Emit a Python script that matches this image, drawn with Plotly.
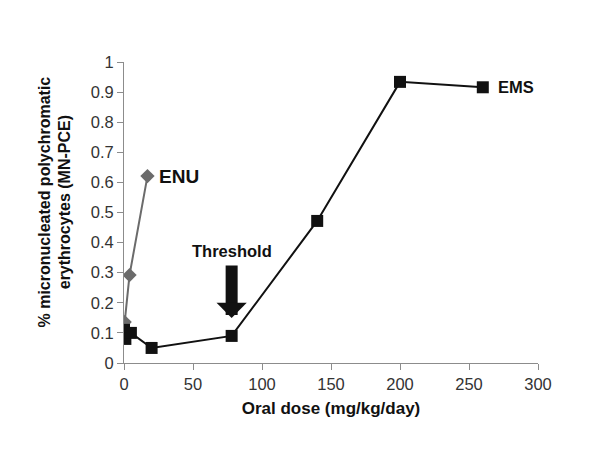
import plotly.graph_objects as go

# EMS series (oral dose mg/kg/day vs % MN-PCE)
ems_dose = [0, 1, 5, 20, 78, 140, 200, 260]
ems_mnpce = [0.11, 0.08, 0.10, 0.05, 0.09, 0.472, 0.934, 0.916]

# ENU series
enu_dose = [0.5, 4, 17]
enu_mnpce = [0.136, 0.292, 0.621]

x_ticks = [0, 50, 100, 150, 200, 250, 300]
y_ticks = [0, 0.1, 0.2, 0.3, 0.4, 0.5, 0.6, 0.7, 0.8, 0.9, 1]
y_tick_text = ["0", "0.1", "0.2", "0.3", "0.4", "0.5", "0.6", "0.7", "0.8", "0.9", "1"]

threshold_dose = 78
threshold_value = 0.09


def main():
    fig = go.Figure()

    fig.add_trace(go.Scatter(
        x=enu_dose, y=enu_mnpce, mode="lines+markers", name="ENU",
        line=dict(color="#6b6b6b", width=2),
        marker=dict(symbol="diamond", size=11, color="#6b6b6b"),
    ))
    fig.add_trace(go.Scatter(
        x=ems_dose, y=ems_mnpce, mode="lines+markers", name="EMS",
        line=dict(color="#111111", width=2),
        marker=dict(symbol="square", size=12, color="#111111"),
    ))

    # series labels
    fig.add_annotation(x=enu_dose[-1], y=enu_mnpce[-1], text="<b>ENU</b>", showarrow=False,
                       xanchor="left", xshift=10, font=dict(size=19, color="#111111"))
    fig.add_annotation(x=ems_dose[-1], y=ems_mnpce[-1], text="<b>EMS</b>", showarrow=False,
                       xanchor="left", xshift=13, font=dict(size=16.5, color="#111111"))

    # threshold arrow
    fig.add_annotation(x=threshold_dose, y=threshold_value, text="", showarrow=True,
                       ax=0, ay=-72, arrowhead=1, arrowsize=0.42, arrowwidth=12,
                       arrowcolor="#111111", standoff=18)
    fig.add_annotation(x=threshold_dose, y=threshold_value, text="<b>Threshold</b>", showarrow=False,
                       yshift=85, font=dict(size=16.5, color="#111111"))

    # y title as a rotated annotation so it can sit a little above centre like the original
    fig.add_annotation(xref="paper", yref="paper", x=0, y=0.5, xanchor="center", yanchor="middle",
                       xshift=-70, yshift=10,
                       text="<b>% micronucleated polychromatic<br>erythrocytes (MN-PCE)</b>",
                       textangle=-90, showarrow=False, font=dict(size=16, color="#111111"))

    axis_common = dict(
        showline=True, linecolor="#8c8c8c", linewidth=1,
        ticks="outside", tickcolor="#8c8c8c", ticklen=6,
        showgrid=False, zeroline=False, automargin=False,
        tickfont=dict(size=16.5, color="#333333"),
    )
    fig.update_xaxes(range=[0, 300], tickvals=x_ticks,
                     title=dict(text="<b>Oral dose (mg/kg/day)</b>", font=dict(size=17, color="#111111"),
                                standoff=10),
                     **axis_common)
    fig.update_yaxes(range=[0, 1], tickvals=y_ticks, ticktext=y_tick_text, **axis_common)

    # page body has an 8px default margin, so shift the plot area up/left by that
    fig.update_layout(
        width=600, height=450,
        margin=dict(l=116, r=70, t=54, b=95),
        paper_bgcolor="white", plot_bgcolor="white",
        showlegend=False,
        font=dict(family="Arial, Liberation Sans, sans-serif"),
    )
    fig.write_html("out.html")


if __name__ == "__main__":
    main()
